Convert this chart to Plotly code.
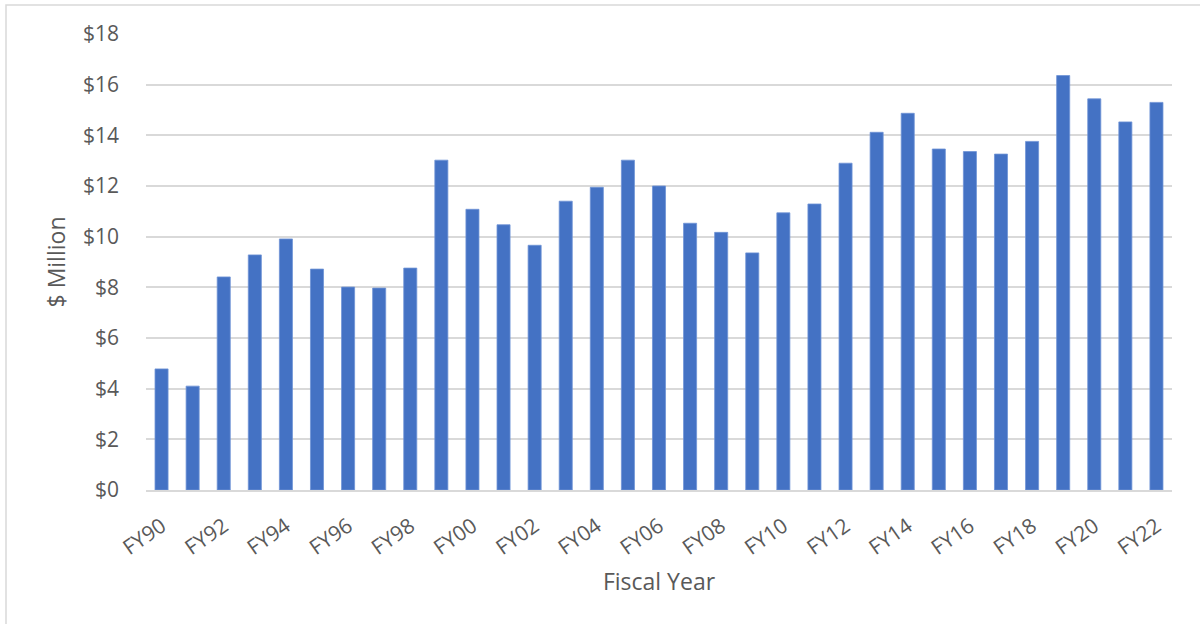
import plotly.graph_objects as go

years = [f"FY{y % 100:02d}" for y in range(1990, 2023)]
values = [4.78, 4.10, 8.41, 9.28, 9.91, 8.72, 8.01, 7.97, 8.76, 13.02,
          11.08, 10.47, 9.66, 11.40, 11.95, 13.02, 12.00, 10.53, 10.17, 9.36,
          10.94, 11.29, 12.90, 14.12, 14.87, 13.46, 13.36, 13.26, 13.76, 16.36,
          15.44, 14.53, 15.30]
tick_labels = years[::2]
y_ticks = list(range(0, 19, 2))
y_tick_text = [f"${v}" for v in y_ticks]

FONT = "Open Sans"
GRAY = "#595959"

fig = go.Figure(go.Bar(x=years, y=values, marker_color="#4472C4",
                       marker_line_color="#6f93d6", marker_line_width=0.8))

L, R, T, B = 146, 28, 34, 134
W, H = 1200, 624
pw, ph = W - L - R, H - T - B

fig.update_layout(
    width=W, height=H,
    margin=dict(l=L, r=R, t=T, b=B),
    paper_bgcolor="white", plot_bgcolor="white",
    bargap=0.58,
    showlegend=False,
    font=dict(family=FONT, color=GRAY, size=16),
    xaxis=dict(
        type="category",
        tickmode="array", tickvals=tick_labels, ticktext=tick_labels,
        tickangle=-35, ticks="", showgrid=False,
        showline=True, linecolor="#d9d9d9", linewidth=1.5,
        ticklabelstandoff=14,
        tickfont=dict(size=21, color=GRAY, family=FONT),
        title=dict(text="Fiscal Year", font=dict(size=23, color=GRAY, family=FONT), standoff=14),
    ),
    yaxis=dict(
        range=[0, 18], tickmode="array", tickvals=y_ticks, ticktext=y_tick_text,
        showgrid=True, gridcolor="#d9d9d9", gridwidth=1.5, zeroline=False,
        ticks="", ticklen=0, ticklabelstandoff=26,
        tickfont=dict(size=21, color=GRAY, family=FONT),
        title=dict(text="$ Million", font=dict(size=23, color=GRAY, family=FONT), standoff=10),
    ),
)

# outer chart border (extends past the right and bottom edges, as in the reference)
fig.add_shape(type="rect", xref="paper", yref="paper",
              x0=(6 - L) / pw, x1=(W + 10 - L) / pw,
              y0=-(H + 10 - (H - B)) / ph, y1=1 + (T - 5) / ph,
              line=dict(color="#d9d9d9", width=1.5), fillcolor="rgba(0,0,0,0)", layer="below")

fig.write_html("out.html", config={"displayModeBar": False},
               post_script="document.body.style.margin='0';")
